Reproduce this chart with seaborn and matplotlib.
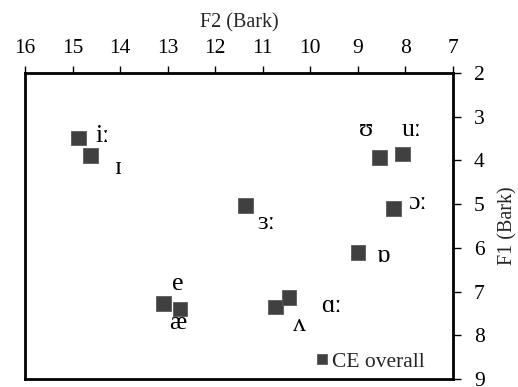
import matplotlib
matplotlib.use('Agg')
import matplotlib.pyplot as plt
import seaborn as sns
import pandas as pd

# ---- data ----
vowels = ['iː', 'ɪ', 'ʊ', 'uː', 'ɔː', 'ɒ', 'ɜː', 'e', 'æ', 'ʌ', 'ɑː']
f2_bark = [14.88, 14.62, 8.54, 8.06, 8.25, 9.00, 11.36, 13.09, 12.74, 10.73, 10.45]
f1_bark = [3.49, 3.89, 3.94, 3.85, 5.10, 6.11, 5.03, 7.28, 7.40, 7.35, 7.13]
series_name = 'CE overall'
x_ticks = [16, 15, 14, 13, 12, 11, 10, 9, 8, 7]
y_ticks = [2, 3, 4, 5, 6, 7, 8, 9]

# label placement (pixel offsets from each point), layout only
label_offsets = {
    'iː': (24, 2), 'ɪ': (28, -12), 'ʊ': (-14, 28), 'uː': (9, 24),
    'ɔː': (24, 6), 'ɒ': (25, -3), 'ɜː': (21, -18), 'e': (14, 20),
    'æ': (-2, -14), 'ʌ': (24, -18), 'ɑː': (43, -9),
}

df = pd.DataFrame({'vowel': vowels, 'F2': f2_bark, 'F1': f1_bark,
                   'series': [series_name] * len(vowels)})

sns.set_style('white')
plt.rcParams['font.family'] = ['Liberation Serif', 'DejaVu Serif']

fig = plt.figure(figsize=(5.18, 3.87), dpi=100)
ax = fig.add_axes([25 / 518, 1 - 379 / 387, 428 / 518, 306 / 387])

sns.scatterplot(data=df, x='F2', y='F1', hue='series', palette=['#404040'],
                marker='s', s=112, edgecolor='#5a5a5a', linewidth=0.6,
                ax=ax, zorder=3)

for v, x, y in zip(vowels, f2_bark, f1_bark):
    dx, dy = label_offsets[v]
    ax.annotate(v, (x, y), xytext=(dx, dy), textcoords='offset pixels',
                ha='center', va='center', fontsize=18.5, color='black')

ax.set_xlim(16, 7)
ax.set_ylim(9, 2)
ax.set_xticks(x_ticks)
ax.set_yticks(y_ticks)
ax.xaxis.tick_top()
ax.xaxis.set_label_position('top')
ax.yaxis.tick_right()
ax.yaxis.set_label_position('right')
ax.tick_params(axis='x', direction='out', length=5, width=1, pad=6,
               labelsize=15.5, colors='black', top=True, bottom=False)
ax.tick_params(axis='y', direction='out', length=6, width=1, pad=9,
               labelsize=15.5, colors='black', right=True, left=False)
ax.set_xlabel('F2 (Bark)', fontsize=14.5, labelpad=8)
ax.set_ylabel('F1 (Bark)', fontsize=14.5, labelpad=10)

for side in ['top', 'right', 'bottom', 'left']:
    ax.spines[side].set_visible(True)
    ax.spines[side].set_color('black')
    ax.spines[side].set_linewidth(2)

leg = ax.legend(loc='center right', bbox_to_anchor=(0.935, 0.056),
                frameon=False, fontsize=15.5, borderaxespad=0, borderpad=0,
                handletextpad=0.0, markerscale=0.65, handlelength=1.0)

fig.savefig('out.png', dpi=100)
